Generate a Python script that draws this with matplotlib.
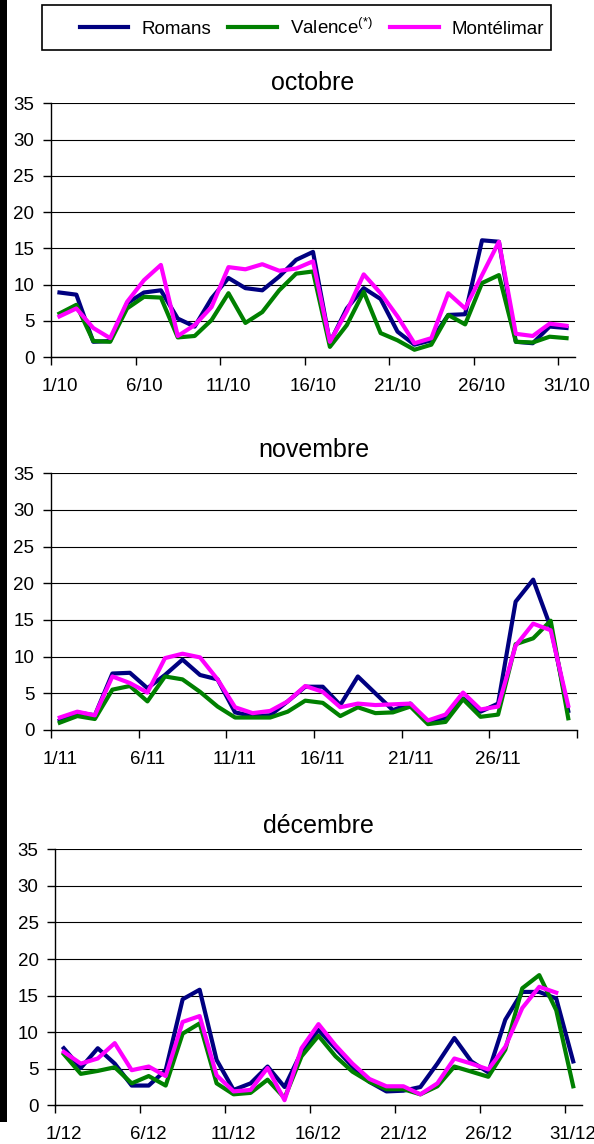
import numpy as np
import matplotlib
matplotlib.use("Agg")
import matplotlib.pyplot as plt

plt.rcParams['font.family'] = ['Liberation Sans', 'DejaVu Sans']
plt.rcParams['mathtext.fontset'] = 'custom'
plt.rcParams['mathtext.rm'] = 'Liberation Sans'
plt.rcParams['mathtext.it'] = 'Liberation Sans:italic'

series_names = ['Romans', r'Valence$^{\rm (*)}$', 'Montélimar']
series_colors = ['#000080', '#008000', '#ff00ff']

# octobre
oct_romans = [8.9, 8.6, 2.1, 2.2, 7.4, 8.9, 9.2, 5.3, 4.2, 8.1, 10.9, 9.5, 9.2, 11.1, 13.4, 14.5,
              2.0, 6.7, 9.5, 8.0, 3.5, 1.7, 2.3, 5.8, 5.9, 16.1, 15.9, 2.1, 1.9, 4.2, 4.0]
oct_valence = [6.0, 7.2, 2.2, 2.1, 6.7, 8.3, 8.2, 2.7, 2.9, 5.1, 8.8, 4.7, 6.2, 9.2, 11.5, 11.8,
               1.4, 4.4, 9.0, 3.3, 2.3, 1.0, 1.7, 5.8, 4.5, 10.2, 11.3, 2.1, 2.0, 2.8, 2.6]
oct_montelimar = [5.6, 6.7, 4.0, 2.6, 7.6, 10.6, 12.7, 2.9, 4.4, 6.9, 12.4, 12.1, 12.8, 11.9, 12.2, 13.2,
                  2.1, 6.3, 11.4, 8.8, 5.6, 1.9, 2.6, 8.8, 6.7, 11.3, 15.9, 3.2, 2.9, 4.6, 4.3]

# novembre
nov_romans = [1.3, 2.4, 2.0, 7.7, 7.8, 5.7, 7.5, 9.6, 7.5, 6.9, 2.4, 1.9, 2.0, 3.9, 5.9,
              5.9, 3.4, 7.3, 5.0, 2.7, 3.6, 1.0, 1.7, 4.3, 2.5, 3.6, 17.5, 20.5, 14.0, 2.6]
nov_valence = [1.0, 1.9, 1.5, 5.5, 6.0, 3.9, 7.3, 6.9, 5.2, 3.2, 1.7, 1.7, 1.7, 2.5, 4.0,
               3.7, 1.9, 3.1, 2.3, 2.4, 3.2, 0.8, 1.1, 4.2, 1.8, 2.1, 11.7, 12.5, 14.9, 1.6]
nov_montelimar = [1.7, 2.5, 2.0, 7.3, 6.4, 5.1, 9.8, 10.4, 9.9, 6.9, 3.1, 2.3, 2.6, 3.9, 6.0,
                  5.2, 3.1, 3.6, 3.4, 3.5, 3.6, 1.3, 2.1, 5.1, 2.8, 3.2, 11.5, 14.5, 13.6, 3.3]

# décembre
dec_romans = [7.8, 5.1, 7.8, 5.7, 2.7, 2.7, 4.8, 14.5, 15.8, 6.2, 2.1, 3.0, 5.3, 2.5, 7.3, 10.3,
              7.8, 5.3, 3.2, 1.9, 2.0, 2.5, 5.7, 9.2, 6.0, 4.5, 11.7, 15.5, 15.5, 14.6, 6.0]
dec_valence = [7.0, 4.3, 4.7, 5.2, 3.0, 4.0, 2.7, 9.8, 11.2, 3.0, 1.5, 1.7, 3.5, 1.0, 6.7, 9.5,
               6.7, 4.6, 3.2, 2.2, 2.2, 1.5, 2.6, 5.3, 4.6, 3.9, 7.6, 16.0, 17.8, 13.0, 2.6]
dec_montelimar = [7.3, 5.7, 6.4, 8.5, 4.8, 5.3, 4.0, 11.4, 12.2, 4.1, 1.9, 2.1, 5.1, 0.7, 7.8, 11.1,
                  8.2, 5.7, 3.6, 2.6, 2.6, 1.5, 3.0, 6.4, 5.7, 4.9, 8.0, 13.3, 16.2, 15.4, np.nan]

months = ['octobre', 'novembre', 'décembre']
month_nums = [10, 11, 12]
month_data = [
    [oct_romans, oct_valence, oct_montelimar],
    [nov_romans, nov_valence, nov_montelimar],
    [dec_romans, dec_valence, dec_montelimar],
]

W, H = 594, 1144
fig = plt.figure(figsize=(W / 100, H / 100), dpi=100)

# axes boxes in pixels: left, top, right, bottom
boxes = [(51, 103.3, 575, 357), (51, 473.3, 577, 730), (55.3, 849.3, 581.7, 1105.3)]
title_pads = [9.5, 12, 11.5]

axes = []
for i in range(3):
    l, t, r, b = boxes[i]
    ax = fig.add_axes([l / W, 1 - b / H, (r - l) / W, (b - t) / H])
    data = month_data[i]
    n = len(data[0])
    x = np.arange(1, n + 1)
    for vals, c in zip(data, series_colors):
        ax.plot(x, vals, color=c, lw=3)
    ax.set_xlim(0.5, n + 0.5)
    ax.set_ylim(0, 35)
    ax.set_yticks(range(0, 36, 5))
    ax.yaxis.grid(True, color='black', lw=0.8)
    ax.set_axisbelow(True)

    label_days = list(range(1, n + 1, 5))
    ax.set_xticks(label_days)
    ax.set_xticklabels([f'{d}/{month_nums[i]}' for d in label_days])
    ax.set_xticks(np.arange(0.5, n + 0.6, 5), minor=True)
    ax.tick_params(axis='x', which='major', length=0, pad=15, labelsize=13.5)
    ax.tick_params(axis='x', which='minor', length=6, width=1, direction='out')
    ax.tick_params(axis='y', length=6, width=1, pad=6, labelsize=13.5)

    for s in ['top', 'right']:
        ax.spines[s].set_visible(False)
    ax.spines['left'].set_linewidth(1)
    ax.spines['bottom'].set_linewidth(1)
    ax.set_title(months[i], fontsize=18, pad=title_pads[i])
    axes.append(ax)

# black bar on the left edge
fig.add_artist(plt.Rectangle((0, 1 - 1122 / H), 7 / W, 1122 / H,
                             transform=fig.transFigure, color='black', lw=0))

# legend box
fig.add_artist(plt.Rectangle((42 / W, 1 - 50 / H), 509 / W, 45 / H,
                             transform=fig.transFigure, facecolor='white',
                             edgecolor='black', lw=1.2))

handles = axes[0].get_lines()
fig.legend(handles, series_names, loc='center', ncol=3, mode='expand',
           bbox_to_anchor=(74 / W, 1 - 50 / H, 476 / W, 45 / H),
           frameon=False, fontsize=13.5, handlelength=2.6, handletextpad=0.7,
           columnspacing=0.3, borderpad=0.3, borderaxespad=0)

fig.savefig('out.png', dpi=100)
